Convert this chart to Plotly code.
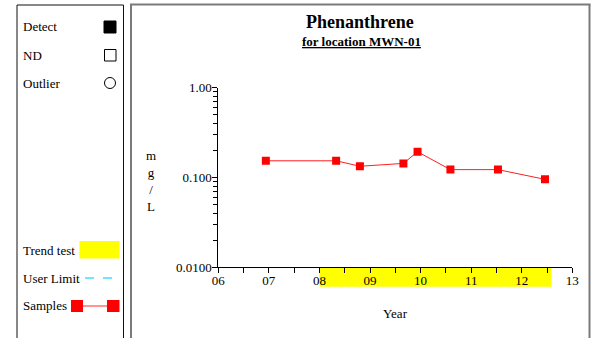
import plotly.graph_objects as go

# ---- data ----
years = [6.94, 8.33, 8.80, 9.66, 9.94, 10.59, 11.53, 12.46]
values = [0.153, 0.153, 0.133, 0.143, 0.193, 0.122, 0.122, 0.095]
x_tickvals = [6, 7, 8, 9, 10, 11, 12, 13]
x_ticktext = ["06", "07", "08", "09", "10", "11", "12", "13"]
y_tickvals = [0.01, 0.1, 1.0]
y_ticktext = ["0.0100", "0.100", "1.00"]
y_minor = [m * d for d in (0.01, 0.1) for m in range(2, 10)]
trend_start, trend_end = 8.0, 12.59
title_text = "<b>Phenanthrene</b>"
subtitle_text = "<b><u>for location MWN-01</u></b>"
legend_labels = ["Detect", "ND", "Outlier", "Trend test", "User Limit", "Samples"]

W, H = 595, 338
FONT = "Times New Roman, 'Liberation Serif', serif"


def fx(px):
    return px / W


def fy(py):
    return 1 - py / H


fig = go.Figure()
fig.add_trace(go.Scatter(
    x=years, y=values, mode="lines+markers",
    line=dict(color="#ff2020", width=1),
    marker=dict(symbol="square", size=8, color="#ff0000"),
    showlegend=False, hoverinfo="skip",
))

shapes = []


def hline(x0, x1, y, color, width):
    shapes.append(dict(type="line", xref="paper", yref="paper",
                       x0=fx(x0), x1=fx(x1), y0=fy(y), y1=fy(y),
                       line=dict(color=color, width=width)))


def vline(x, y0, color, width):
    shapes.append(dict(type="line", xref="paper", yref="paper",
                       x0=fx(x), x1=fx(x), y0=fy(y0), y1=0,
                       line=dict(color=color, width=width)))


# panels (open at the bottom, running off the page)
hline(17, 123.5, 5, "#111111", 1)
vline(17, 5, "#111111", 1)
vline(123.5, 5, "#111111", 1)
hline(130, 590.5, 4.5, "#7a7a7a", 2)
vline(131, 4.5, "#7a7a7a", 2)
vline(589.5, 4.5, "#7a7a7a", 2)

# trend test band below x axis
shapes.append(dict(type="rect", xref="x", yref="paper",
                   x0=trend_start, x1=trend_end, y0=fy(286.7), y1=fy(267.5),
                   line=dict(width=0), fillcolor="#ffff00", layer="below"))
# legend glyphs
shapes.append(dict(type="rect", xref="paper", yref="paper",
                   x0=fx(104), x1=fx(116), y0=fy(33), y1=fy(21),
                   line=dict(color="black", width=1), fillcolor="black"))
shapes.append(dict(type="rect", xref="paper", yref="paper",
                   x0=fx(104.5), x1=fx(116), y0=fy(61), y1=fy(49.5),
                   line=dict(color="black", width=1), fillcolor="white"))
shapes.append(dict(type="circle", xref="paper", yref="paper",
                   x0=fx(104.5), x1=fx(115.5), y0=fy(88.5), y1=fy(77.5),
                   line=dict(color="black", width=1), fillcolor="white"))
shapes.append(dict(type="rect", xref="paper", yref="paper",
                   x0=fx(79.5), x1=fx(119.5), y0=fy(258.5), y1=fy(241),
                   line=dict(width=0), fillcolor="#ffff00"))
shapes.append(dict(type="line", xref="paper", yref="paper",
                   x0=fx(85), x1=fx(120), y0=fy(278), y1=fy(278),
                   line=dict(color="#40e0ff", width=1.5, dash="dash")))
shapes.append(dict(type="line", xref="paper", yref="paper",
                   x0=fx(80), x1=fx(110), y0=fy(306), y1=fy(306),
                   line=dict(color="#ff7070", width=1.5)))
shapes.append(dict(type="rect", xref="paper", yref="paper",
                   x0=fx(71), x1=fx(83), y0=fy(312), y1=fy(300),
                   line=dict(width=0), fillcolor="#ff0000"))
shapes.append(dict(type="rect", xref="paper", yref="paper",
                   x0=fx(107), x1=fx(119.5), y0=fy(312), y1=fy(300),
                   line=dict(width=0), fillcolor="#ff0000"))

annotations = []
legend_y = [27, 55, 83, 250, 278, 305]
for lab, yy in zip(legend_labels, legend_y):
    annotations.append(dict(text=lab, xref="paper", yref="paper",
                            x=fx(21), y=fy(yy), xanchor="left", yanchor="middle",
                            showarrow=False, font=dict(family=FONT, size=13, color="black")))
annotations.append(dict(text=title_text, xref="paper", yref="paper",
                        x=fx(360), y=fy(22), xanchor="center", yanchor="middle",
                        showarrow=False, font=dict(family=FONT, size=18, color="black")))
annotations.append(dict(text=subtitle_text, xref="paper", yref="paper",
                        x=fx(362), y=fy(42), xanchor="center", yanchor="middle",
                        showarrow=False, font=dict(family=FONT, size=13, color="black")))
annotations.append(dict(text="m<br>g<br>/<br>L", xref="paper", yref="paper",
                        x=fx(151), y=fy(181), xanchor="center", yanchor="middle",
                        showarrow=False, align="center",
                        font=dict(family=FONT, size=13, color="black")))
annotations.append(dict(text="Year", xref="paper", yref="paper",
                        x=fx(395), y=fy(313), xanchor="center", yanchor="middle",
                        showarrow=False, font=dict(family=FONT, size=13, color="black")))

fig.update_layout(
    template="none",
    width=W, height=H,
    margin=dict(l=0, r=0, t=0, b=0, pad=0, autoexpand=False),
    paper_bgcolor="white", plot_bgcolor="rgba(0,0,0,0)",
    showlegend=False,
    shapes=shapes, annotations=annotations,
    font=dict(family=FONT, size=13, color="black"),
    xaxis=dict(domain=[fx(218.3), fx(572.3)], range=[6, 13], automargin=False,
               tickmode="array", tickvals=x_tickvals, ticktext=x_ticktext,
               ticks="outside", ticklen=5, tickcolor="black", tickwidth=1,
               minor=dict(dtick=0.5, tick0=6, ticks="outside", ticklen=5, tickcolor="black"),
               showline=True, linecolor="black", linewidth=1,
               showgrid=False, zeroline=False,
               tickfont=dict(family=FONT, size=13, color="black")),
    yaxis=dict(domain=[fy(267), fy(87.7)], type="log", range=[-2, 0], automargin=False,
               tickmode="array", tickvals=y_tickvals, ticktext=y_ticktext,
               ticks="outside", ticklen=5, tickcolor="black", tickwidth=1,
               minor=dict(tickmode="array", tickvals=y_minor, ticks="outside",
                          ticklen=4, tickcolor="black"),
               showline=True, linecolor="black", linewidth=1,
               showgrid=False, zeroline=False,
               tickfont=dict(family=FONT, size=13, color="black")),
)

try:
    fig.update_xaxes(ticklabelstandoff=-4)
    fig.update_yaxes(ticklabelstandoff=-2)
except Exception:
    pass

fig.write_html("out.html", config={"displayModeBar": False})
